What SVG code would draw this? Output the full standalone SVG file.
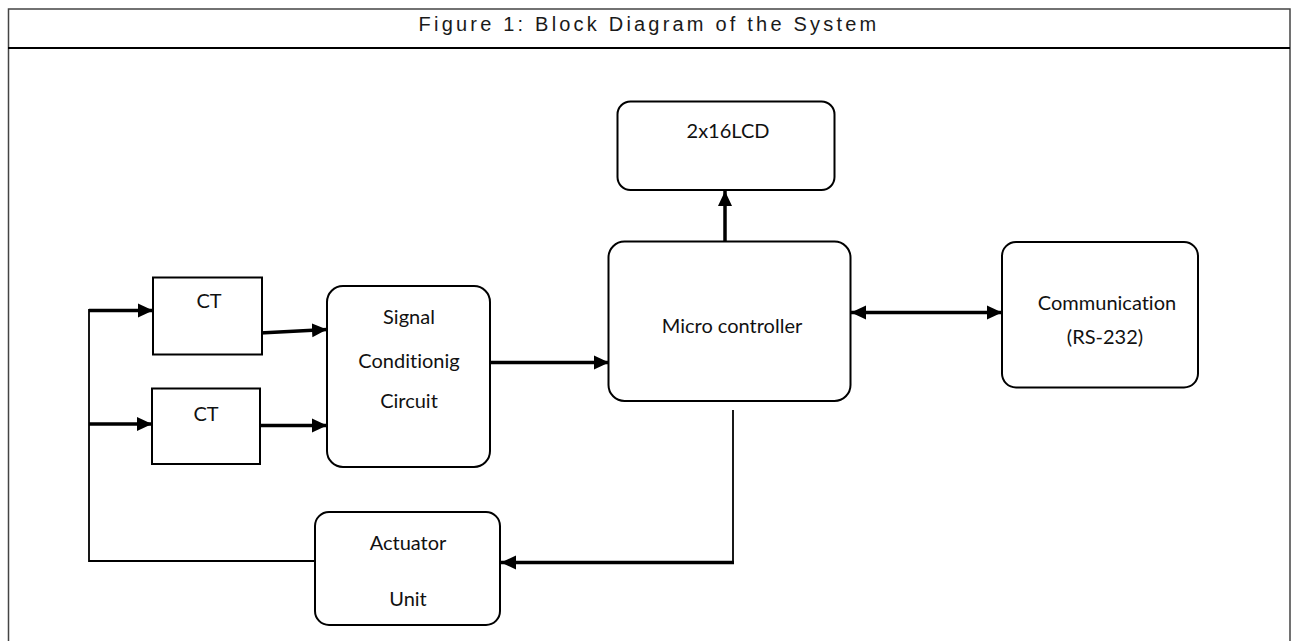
<svg xmlns="http://www.w3.org/2000/svg" width="1295" height="641" viewBox="0 0 1295 641">
<style>
.frame{fill:none;stroke:#444;stroke-width:1.5}
.sep{stroke:#000;stroke-width:2}
.title{font-family:"Liberation Sans",Arial,sans-serif;font-size:20px;letter-spacing:3.2px;fill:#1a1a1a;text-anchor:middle}
.box{fill:#fff;stroke:#000;stroke-width:2}
.lbl{font-family:Lato,"Open Sans",sans-serif;font-size:20px;fill:#111;text-anchor:middle;font-variant-ligatures:none;font-feature-settings:"liga" 0}
.thick{fill:none;stroke:#000;stroke-width:3.5}
.thin{fill:none;stroke:#000;stroke-width:1.8}
</style>
<defs>
<marker id="ah" markerUnits="userSpaceOnUse" markerWidth="16" markerHeight="16" viewBox="0 0 16 16" refX="15" refY="8" orient="auto">
<path d="M0,1 L15,8 L0,15 Z" fill="#000"/>
</marker>
<marker id="ahs" markerUnits="userSpaceOnUse" markerWidth="16" markerHeight="16" viewBox="0 0 16 16" refX="1" refY="8" orient="auto">
<path d="M16,1 L1,8 L16,15 Z" fill="#000"/>
</marker>
</defs>
<g id="frame">
<path class="frame" d="M8.5,641 V9 H1290 V641"/>
<line class="sep" x1="8" y1="48" x2="1290" y2="48"/>
<text class="title" x="649" y="31">Figure 1: Block Diagram of the System</text>
</g>
<g id="connectors">
<line class="thick" x1="89" y1="310.5" x2="153" y2="310.5" marker-end="url(#ah)"/>
<line class="thick" x1="89" y1="424" x2="152" y2="424" marker-end="url(#ah)"/>
<line class="thick" x1="260" y1="333" x2="327" y2="329.5" marker-end="url(#ah)"/>
<line class="thick" x1="260" y1="425.5" x2="327" y2="425.5" marker-end="url(#ah)"/>
<line class="thick" x1="491" y1="362.5" x2="609" y2="362.5" marker-end="url(#ah)"/>
<line class="thick" x1="725" y1="242" x2="725" y2="191" marker-end="url(#ah)"/>
<line class="thick" x1="851" y1="312.5" x2="1002" y2="312.5" marker-start="url(#ahs)" marker-end="url(#ah)"/>
<path class="thin" d="M89,309 V561 H315"/>
<line class="thin" x1="733" y1="410" x2="733" y2="563"/>
<line class="thick" x1="734" y1="562.5" x2="501" y2="562.5" marker-end="url(#ah)"/>
</g>
<g id="ct1">
<rect class="box" x="153" y="277.5" width="109" height="77"/>
<text class="lbl" x="209" y="308">CT</text>
</g>
<g id="ct2">
<rect class="box" x="152" y="388.5" width="108" height="75.5"/>
<text class="lbl" x="206" y="421">CT</text>
</g>
<g id="signal">
<rect class="box" x="327" y="286" width="163" height="181" rx="16"/>
<text class="lbl" x="409" y="324">Signal</text>
<text class="lbl" x="409" y="368">Conditionig</text>
<text class="lbl" x="409" y="408">Circuit</text>
</g>
<g id="lcd">
<rect class="box" x="617.5" y="101.5" width="217" height="88.5" rx="13"/>
<text class="lbl" x="728" y="138">2x16LCD</text>
</g>
<g id="mcu">
<rect class="box" x="608.5" y="241.5" width="242" height="159.5" rx="16"/>
<text class="lbl" x="732" y="333">Micro controller</text>
</g>
<g id="comm">
<rect class="box" x="1002" y="242" width="196" height="145.5" rx="14"/>
<text class="lbl" x="1107" y="310">Communication</text>
<text class="lbl" x="1105" y="344">(RS-232)</text>
</g>
<g id="actuator">
<rect class="box" x="315" y="512" width="185" height="113" rx="14"/>
<text class="lbl" x="408" y="550">Actuator</text>
<text class="lbl" x="408" y="606">Unit</text>
</g>
</svg>
